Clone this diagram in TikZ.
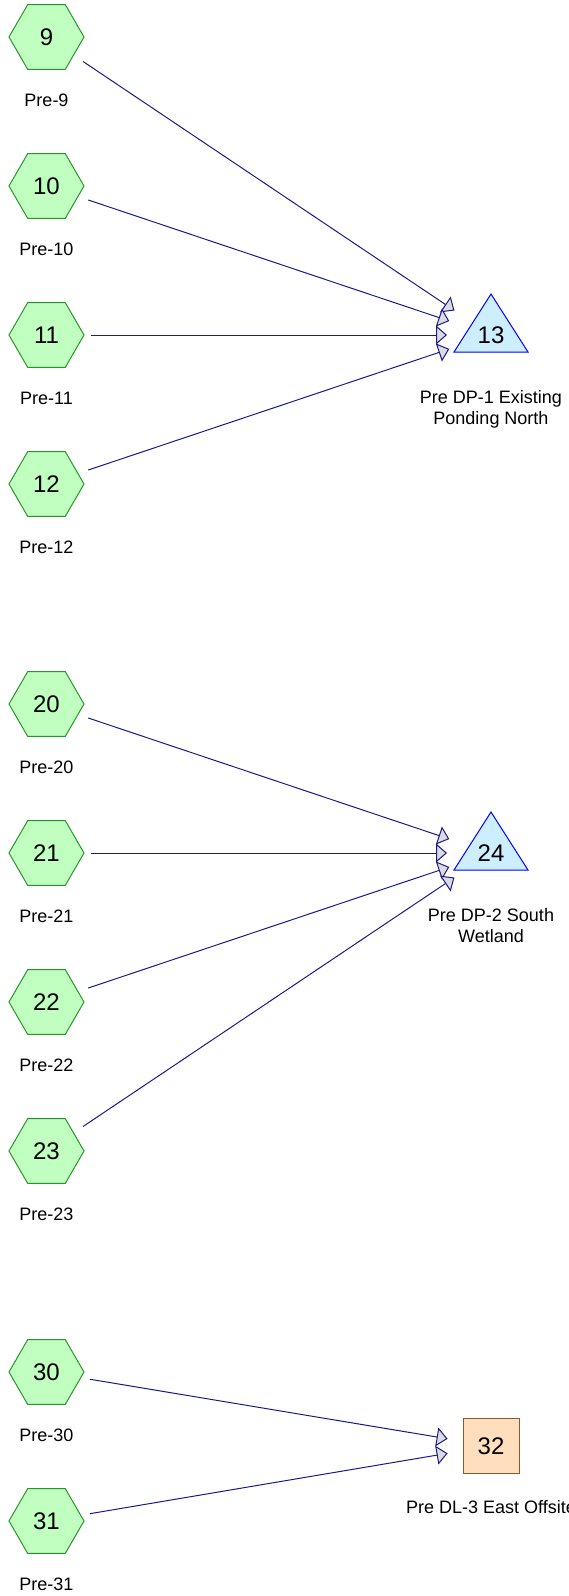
\documentclass[tikz,border=0pt]{standalone}
\usepackage{fontspec}
\setmainfont{Liberation Sans}
\usetikzlibrary{shapes.geometric,arrows.meta}
\definecolor{hexfill}{RGB}{192,255,192}
\definecolor{hexline}{RGB}{40,150,40}
\definecolor{trifill}{RGB}{204,238,255}
\definecolor{triline}{RGB}{0,0,255}
\definecolor{sqfill}{RGB}{255,222,190}
\definecolor{sqline}{RGB}{140,90,40}
\definecolor{connline}{RGB}{26,26,140}
\definecolor{tipfill}{RGB}{220,220,220}
\tikzset{
  hexnode/.style={regular polygon, regular polygon sides=6, minimum size=75pt, inner sep=0pt,
    draw=hexline, fill=hexfill, line width=1pt, font=\fontsize{24}{28}\selectfont},
  numnode/.style={inner sep=0pt, font=\fontsize{24}{28}\selectfont},
  trishape/.style={draw=triline, fill=trifill, line width=1pt, line join=miter},
  sqnode/.style={rectangle, minimum width=56pt, minimum height=55pt, inner sep=0pt,
    draw=sqline, fill=sqfill, line width=1pt, font=\fontsize{24}{28}\selectfont},
  lbl/.style={inner sep=0pt, align=center, font=\fontsize{18}{21}\selectfont},
  conn/.style={draw=connline, line width=1pt, shorten <=44pt, shorten >=44pt,
    -{Triangle[length=11pt, width=19pt, fill=tipfill]}},
}
\begin{document}
\begin{tikzpicture}[x=1pt, y=-1pt]
\useasboundingbox (0,0) rectangle (568,1596);
\clip (0,0) rectangle (568,1596);

% group 1
\node[hexnode] (h9)  at (46.5,37)  {9};
\node[hexnode] (h10) at (46.5,186) {10};
\node[hexnode] (h11) at (46.5,335) {11};
\node[hexnode] (h12) at (46.5,484) {12};
\node[lbl] (l9)  at (46.5,100) {Pre-9};
\node[lbl] (l10) at (46.5,249) {Pre-10};
\node[lbl] (l11) at (46.5,398) {Pre-11};
\node[lbl] (l12) at (46.5,547) {Pre-12};

\coordinate (t13c) at (491,335);
\draw[trishape] (491,294) -- (528,352) -- (454,352) -- cycle;
\node[numnode] (t13) at (t13c) {13};
\node[lbl] (l13) at (491,409) {Pre DP-1 Existing\\Ponding North};

% group 2
\node[hexnode] (h20) at (46.5,704)  {20};
\node[hexnode] (h21) at (46.5,853)  {21};
\node[hexnode] (h22) at (46.5,1002) {22};
\node[hexnode] (h23) at (46.5,1151) {23};
\node[lbl] (l20) at (46.5,767)  {Pre-20};
\node[lbl] (l21) at (46.5,916)  {Pre-21};
\node[lbl] (l22) at (46.5,1065) {Pre-22};
\node[lbl] (l23) at (46.5,1214) {Pre-23};

\coordinate (t24c) at (491,853);
\draw[trishape] (491,812) -- (528,870) -- (454,870) -- cycle;
\node[numnode] (t24) at (t24c) {24};
\node[lbl] (l24) at (491,926) {Pre DP-2 South\\Wetland};

% group 3
\node[hexnode] (h30) at (46.5,1372) {30};
\node[hexnode] (h31) at (46.5,1521) {31};
\node[lbl] (l30) at (46.5,1435) {Pre-30};
\node[lbl] (l31) at (46.5,1584) {Pre-31};

\node[sqnode] (s32) at (491,1446) {32};
\node[lbl] (l32) at (491,1507) {Pre DL-3 East Offsite};

% connectors
\draw[conn] (h9.center)  -- (t13c);
\draw[conn] (h10.center) -- (t13c);
\draw[conn] (h11.center) -- (t13c);
\draw[conn] (h12.center) -- (t13c);
\draw[conn] (h20.center) -- (t24c);
\draw[conn] (h21.center) -- (t24c);
\draw[conn] (h22.center) -- (t24c);
\draw[conn] (h23.center) -- (t24c);
\draw[conn] (h30.center) -- (s32.center);
\draw[conn] (h31.center) -- (s32.center);
\end{tikzpicture}
\end{document}
